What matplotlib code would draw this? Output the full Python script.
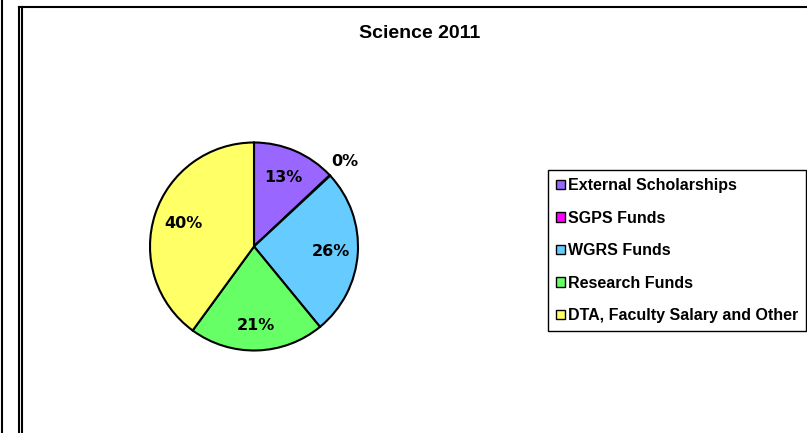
import matplotlib.pyplot as plt
from matplotlib.patches import Patch
from matplotlib.lines import Line2D
import numpy as np

categories = ['External Scholarships', 'SGPS Funds', 'WGRS Funds',
              'Research Funds', 'DTA, Faculty Salary and Other']
shares = [13, 0.1, 26, 21, 40]
pct_labels = ['13%', '0%', '26%', '21%', '40%']
colors = ['#9966FF', '#FF00FF', '#66CCFF', '#66FF66', '#FFFF66']

W, H = 807, 433
fig = plt.figure(figsize=(W / 100, H / 100), dpi=100)

# frame lines like the original screenshot
for x in (1.5, 18.5, 21.5):
    y0 = 0 if x < 5 else 6.5
    fig.add_artist(Line2D([x / W, x / W], [0, 1 - y0 / H], color='black', lw=1.5))
fig.add_artist(Line2D([18.5 / W, 1], [1 - 6.5 / H, 1 - 6.5 / H], color='black', lw=1.5))

fig.text(420 / W, 1 - 33 / H, 'Science 2011', ha='center', va='center',
         fontsize=14, fontweight='bold', family='Liberation Sans')

# pie centred at (254, 246) px, radius ~104 px
cx, cy, half, rad = 254, 246.5, 110, 104
ax = fig.add_axes([(cx - half) / W, (H - cy - half) / H, 2 * half / W, 2 * half / H])
wedges, _ = ax.pie(shares, colors=colors, startangle=90, counterclock=False,
                   radius=rad / half,
                   wedgeprops=dict(edgecolor='black', linewidth=1.5))
ax.set_xlim(-1, 1)
ax.set_ylim(-1, 1)
ax.axis('off')

total = sum(shares)
start = 90.0
dists = [0.72, 1.2, 0.74, 0.76, 0.71]
for val, lab, d in zip(shares, pct_labels, dists):
    span = val / total * 360
    mid = np.deg2rad(start - span / 2)
    start -= span
    r = d * rad / half
    ax.text(r * np.cos(mid), r * np.sin(mid), lab, ha='center', va='center',
            fontsize=11.5, fontweight='bold', family='DejaVu Sans')

handles = [Patch(facecolor=c, edgecolor='black', linewidth=1) for c in colors]
leg = fig.legend(handles, categories, loc='upper left',
                 bbox_to_anchor=(548 / W, 1 - 170 / H),
                 prop={'family': 'Liberation Sans', 'size': 11.5, 'weight': 'bold'},
                 handlelength=0.55, handleheight=0.55, handletextpad=0.2,
                 labelspacing=1.1, borderpad=0.5, borderaxespad=0,
                 frameon=True, fancybox=False, framealpha=1)
leg.get_frame().set_edgecolor('black')
leg.get_frame().set_linewidth(1)

fig.savefig('out.png', dpi=100)
